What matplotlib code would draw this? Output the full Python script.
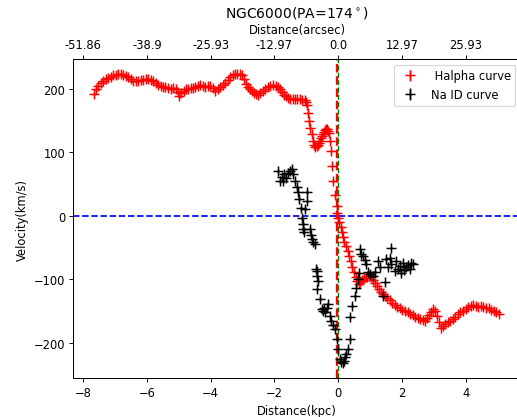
#rotation curve of NGC6000 along PA=174
import numpy as np
import matplotlib
matplotlib.use("Agg")
import matplotlib.pyplot as plt

red_x = [-7.67,-7.6,-7.52,-7.45,-7.37,-7.29,-7.21,-7.13,-7.05,-6.98,-6.9,-6.82,-6.74,-6.67,-6.59,-6.51,
         -6.43,-6.35,-6.27,-6.2,-6.12,-6.04,-5.96,-5.88,-5.8,-5.73,-5.65,-5.57,-5.5,-5.42,-5.34,-5.26,
         -5.18,-5.1,-5.04,-4.98,-4.92,-4.85,-4.78,-4.7,-4.62,-4.55,-4.48,-4.4,-4.32,-4.25,-4.17,-4.09,
         -4.01,-3.93,-3.85,-3.78,-3.7,-3.62,-3.54,-3.46,-3.38,-3.3,-3.23,-3.16,-3.09,-3.01,-2.95,-2.88,
         -2.82,-2.76,-2.7,-2.63,-2.57,-2.51,-2.45,-2.37,-2.29,-2.21,-2.13,-2.04,-1.96,-1.88,-1.82,-1.76,
         -1.7,-1.63,-1.57,-1.51,-1.43,-1.35,-1.28,-1.2,-1.12,-1.04,-1.01,-0.98,-0.95,-0.91,-0.87,-0.83,
         -0.8,-0.76,-0.71,-0.67,-0.63,-0.6,-0.57,-0.54,-0.51,-0.48,-0.45,-0.42,-0.38,-0.35,-0.32,-0.29,
         -0.26,-0.23,-0.2,-0.16,-0.11,-0.05,-0.03,
         0.0,0.04,0.08,0.12,0.16,0.2,0.25,0.3,0.35,0.4,0.45,0.5,0.55,0.6,0.65,0.7,0.75,0.8,0.86,0.92,
         0.98,1.04,1.1,1.16,1.22,1.28,1.34,1.4,1.47,1.54,1.62,1.7,1.78,1.86,1.94,2.02,2.1,2.18,2.26,
         2.34,2.42,2.5,2.58,2.66,2.74,2.8,2.86,2.92,2.98,3.04,3.1,3.16,3.22,3.28,3.36,3.44,3.52,3.6,
         3.68,3.76,3.84,3.92,4.0,4.08,4.16,4.24,4.32,4.4,4.48,4.56,4.64,4.72,4.8,4.88,4.96,5.04]
red_v = [192,200,205,209,212,215,217,219,221,222,223,224,222,220,218,215,
         213,212,213,214,214,215,215,214,212,209,206,204,203,203,201,200,
         201,200,195,189,193,197,199,200,201,202,203,205,206,204,203,204,
         205,201,196,199,203,206,209,214,218,221,223,224,223,221,215,208,
         203,199,197,194,192,191,193,197,200,203,204,206,205,203,199,195,
         191,188,186,184,184,184,184,184,183,182,180,174,162,150,139,129,
         118,111,108,110,112,115,118,122,125,129,132,135,137,137,134,130,
         118,102,79,55,32,16,5,
         -3,-10,-18,-26,-33,-41,-48,-56,-64,-72,-80,-89,-97,-103,-108,-105,-101,-98,-96,-96,
         -95,-97,-101,-106,-111,-116,-120,-124,-127,-130,-133,-137,-140,-143,-146,-148,-150,-152,-154,
         -156,-159,-161,-163,-164,-165,-161,-156,-151,-147,-150,-158,-168,-176,-173,-170,-168,-165,-162,
         -159,-155,-152,-150,-147,-144,-142,-141,-142,-143,-142,-144,-145,-146,-148,-150,-152,-154]

na_x = [-1.875,-1.81,-1.77,-1.72,-1.69,-1.63,-1.56,-1.51,-1.46,-1.41,-1.35,-1.3,-1.25,-1.22,-1.18,
        -1.14,-1.1,-1.09,-1.07,-1.04,-0.99,-0.97,-0.88,-0.86,-0.82,-0.78,-0.73,-0.7,-0.675,-0.65,
        -0.675,-0.625,-0.57,-0.52,-0.48,-0.45,-0.42,-0.36,-0.31,-0.26,-0.21,-0.17,-0.1,-0.05,0.0,
        0.05,0.09,0.14,0.18,0.21,0.26,0.31,0.36,0.38,0.45,0.52,0.575,0.625,0.66,0.68,0.72,0.78,
        0.83,0.89,0.94,0.99,1.09,1.15,1.25,1.3,1.41,1.46,1.51,1.55,1.62,1.67,1.67,1.77,1.83,1.87,
        1.93,1.97,2.03,2.08,2.14,2.19,2.24,2.29,2.34]
na_v = [71,55,61,55,66,60,68,71,74,66,55,45,37,26,12,
        -3,-13,-21,-26,11,37,24,-21,-30,-37,-42,-45,-84,-87,-95,
        -116,-103,-131,-147,-150,-145,-152,-146,-139,-158,-166,-172,-179,-194,-210,
        -226,-230,-232,-228,-223,-218,-210,-194,-160,-142,-126,-113,-100,-90,-52,-60,-63,
        -70,-76,-89,-92,-95,-88,-71,-81,-126,-105,-68,-80,-66,-50,-76,-87,-71,-84,
        -79,-90,-74,-86,-81,-77,-84,-74,-76]

kpc_ticks = [-8, -6, -4, -2, 0, 2, 4]
arcsec_per_kpc = 6.4829

dpi = 83
fig = plt.figure(figsize=(517 / dpi, 418 / dpi), dpi=dpi)
ax = fig.add_axes([0.1418, 0.0926, 0.866, 0.7639])
ax.errorbar(red_x, red_v, yerr=3, fmt='+', color='r', ecolor='r', ms=8, mew=1.3,
            elinewidth=1.3, label=' Halpha curve')
ax.errorbar(na_x, na_v, yerr=3, fmt='+', color='k', ecolor='k', ms=8, mew=1.3,
            elinewidth=1.3, label='Na ID curve')
ax.axhline(0, color='b', ls='--', lw=1.5)
ax.axvline(-0.04, color='r', ls='--', lw=2)
ax.axvline(0.01, color='g', ls='--', lw=1.2)
ax.set_xlim(-8.31, 5.74)
ax.set_ylim(-256, 247)
ax.set_xticks(kpc_ticks)
ax.set_xlabel("Distance(kpc)")
ax.set_ylabel("Velocity(km/s)")
ax.legend(loc='upper right')

ax2 = ax.twiny()
ax2.set_xlim(ax.get_xlim())
ax2.set_xticks(kpc_ticks)
ax2.set_xticklabels([str(round(k * arcsec_per_kpc, 2)) for k in kpc_ticks])
ax2.set_xlabel("Distance(arcsec)")
ax2.set_title(r"NGC6000(PA=174$^\circ$)")

fig.savefig("out.png", dpi=dpi)
